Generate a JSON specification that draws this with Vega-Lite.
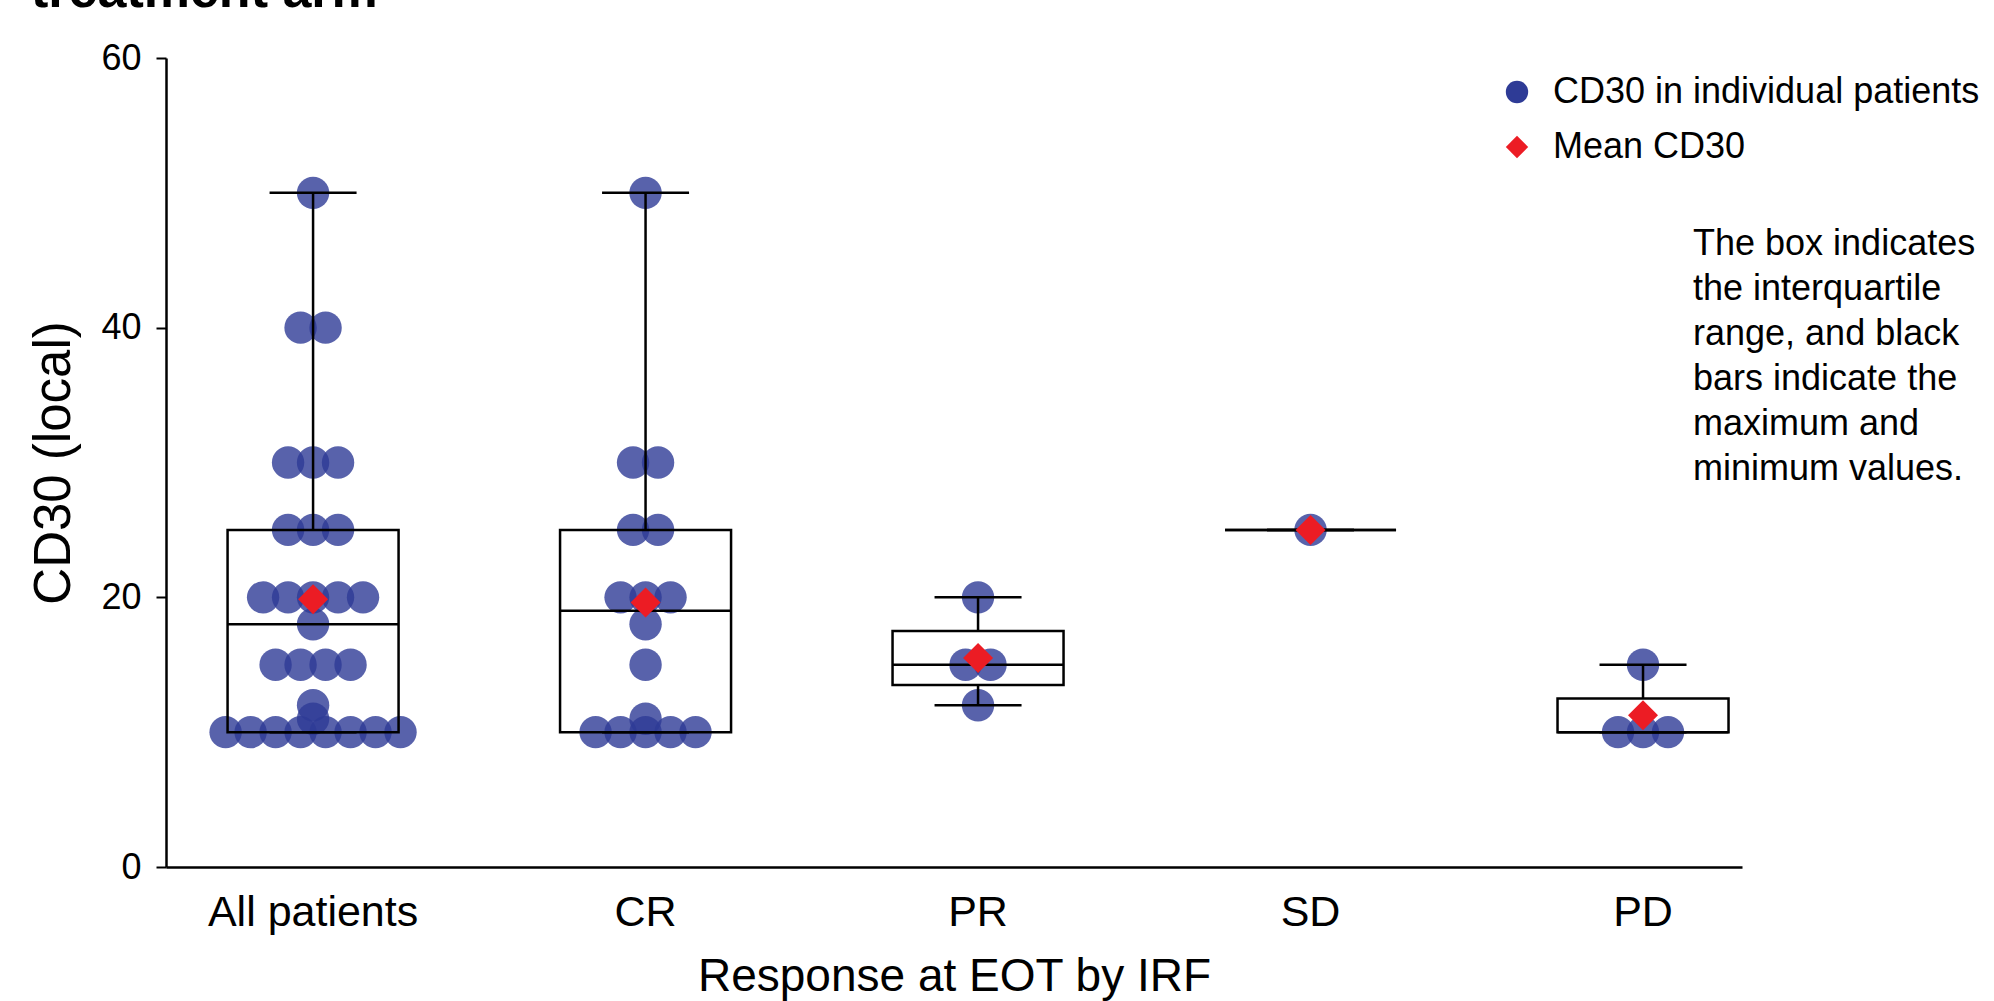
{
  "$schema": "https://vega.github.io/schema/vega-lite/v6.json",
  "width": 1576,
  "height": 809,
  "autosize": {"type": "none"},
  "padding": {"left": 166, "top": 58, "right": 252, "bottom": 134},
  "background": "white",
  "title": {"text": "treatment arm", "anchor": "start", "frame": "group", "font": "Liberation Sans", "fontSize": 52, "fontWeight": "bold", "color": "black", "dx": -135, "offset": 22},
  "config": {"view": {"stroke": null}, "font": "Liberation Sans", "axis": {"grid": false}},
  "datasets": {
    "points": [
      {"group": "All patients", "value": 10}, {"group": "All patients", "value": 10}, {"group": "All patients", "value": 10}, {"group": "All patients", "value": 10},
      {"group": "All patients", "value": 10}, {"group": "All patients", "value": 10}, {"group": "All patients", "value": 10}, {"group": "All patients", "value": 10},
      {"group": "All patients", "value": 11}, {"group": "All patients", "value": 12},
      {"group": "All patients", "value": 15}, {"group": "All patients", "value": 15}, {"group": "All patients", "value": 15}, {"group": "All patients", "value": 15},
      {"group": "All patients", "value": 18},
      {"group": "All patients", "value": 20}, {"group": "All patients", "value": 20}, {"group": "All patients", "value": 20}, {"group": "All patients", "value": 20}, {"group": "All patients", "value": 20},
      {"group": "All patients", "value": 25}, {"group": "All patients", "value": 25}, {"group": "All patients", "value": 25},
      {"group": "All patients", "value": 30}, {"group": "All patients", "value": 30}, {"group": "All patients", "value": 30},
      {"group": "All patients", "value": 40}, {"group": "All patients", "value": 40},
      {"group": "All patients", "value": 50},
      {"group": "CR", "value": 10}, {"group": "CR", "value": 10}, {"group": "CR", "value": 10}, {"group": "CR", "value": 10}, {"group": "CR", "value": 10},
      {"group": "CR", "value": 11}, {"group": "CR", "value": 15}, {"group": "CR", "value": 18},
      {"group": "CR", "value": 20}, {"group": "CR", "value": 20}, {"group": "CR", "value": 20},
      {"group": "CR", "value": 25}, {"group": "CR", "value": 25},
      {"group": "CR", "value": 30}, {"group": "CR", "value": 30},
      {"group": "CR", "value": 50},
      {"group": "PR", "value": 12}, {"group": "PR", "value": 15}, {"group": "PR", "value": 15}, {"group": "PR", "value": 20},
      {"group": "SD", "value": 25},
      {"group": "PD", "value": 10}, {"group": "PD", "value": 10}, {"group": "PD", "value": 10}, {"group": "PD", "value": 15}
    ],
    "stats": [
      {"group": "All patients", "min": 10, "q1": 10, "median": 18, "q3": 25, "max": 50},
      {"group": "CR", "min": 10, "q1": 10, "median": 19, "q3": 25, "max": 50},
      {"group": "PR", "min": 12, "q1": 13.5, "median": 15, "q3": 17.5, "max": 20},
      {"group": "SD", "min": 25, "q1": 25, "median": 25, "q3": 25, "max": 25},
      {"group": "PD", "min": 10, "q1": 10, "median": 10, "q3": 12.5, "max": 15}
    ],
    "note": [
      {"note": ["The box indicates", "the interquartile", "range, and black", "bars indicate the", "maximum and", "minimum values."]}
    ]
  },
  "encoding": {
    "x": {
      "field": "group",
      "type": "nominal",
      "title": "Response at EOT by IRF",
      "scale": {"type": "band", "domain": ["All patients", "CR", "PR", "SD", "PD"], "paddingInner": 0.486, "paddingOuter": 0.113, "align": 0.82},
      "axis": {"labelAngle": 0, "labelFont": "Liberation Sans", "labelFontSize": 43, "labelColor": "black", "labelLimit": 0, "ticks": false, "tickSize": 0, "labelPadding": 24, "domainColor": "black", "domainWidth": 2.5, "titleFont": "Liberation Sans", "titleFontSize": 46, "titleFontWeight": "normal", "titleColor": "black", "titlePadding": 20}
    }
  },
  "layer": [
    {
      "data": {"name": "points"},
      "transform": [
        {"window": [{"op": "row_number", "as": "rank"}], "groupby": ["group", "value"]},
        {"joinaggregate": [{"op": "count", "as": "n"}], "groupby": ["group", "value"]},
        {"calculate": "datum.rank - (datum.n + 1) / 2", "as": "slot"}
      ],
      "mark": {"type": "point", "filled": true, "size": 1050, "opacity": 0.8, "strokeWidth": 0},
      "encoding": {
        "xOffset": {"field": "slot", "type": "quantitative", "scale": {"domain": [-3.42, 3.42], "nice": false, "zero": false}},
        "y": {
          "field": "value", "type": "quantitative", "title": "CD30 (local)",
          "scale": {"domain": [0, 60], "nice": false},
          "axis": {"values": [0, 20, 40, 60], "tickSize": 10, "tickWidth": 2, "tickColor": "black", "domainColor": "black", "domainWidth": 2.5, "labelFont": "Liberation Sans", "labelFontSize": 36, "labelColor": "black", "labelPadding": 15, "titleFont": "Liberation Sans", "titleFontSize": 51, "titleFontWeight": "normal", "titleColor": "black", "titlePadding": 20}
        },
        "color": {
          "datum": "CD30 in individual patients", "type": "nominal",
          "scale": {"domain": ["CD30 in individual patients", "Mean CD30"], "range": ["#2e3b96", "#ec1c24"]},
          "legend": {
            "orient": "none", "legendX": 1333, "legendY": 16, "title": null, "padding": 0,
            "labelFont": "Liberation Sans", "labelFontSize": 36, "labelColor": "black", "labelOffset": 18, "labelLimit": 1000,
            "symbolSize": 500, "symbolOpacity": 1, "symbolStrokeWidth": 0, "rowPadding": 19
          }
        },
        "shape": {
          "datum": "CD30 in individual patients", "type": "nominal",
          "scale": {"domain": ["CD30 in individual patients", "Mean CD30"], "range": ["circle", "diamond"]},
          "legend": {
            "orient": "none", "legendX": 1333, "legendY": 16, "title": null, "padding": 0,
            "labelFont": "Liberation Sans", "labelFontSize": 36, "labelColor": "black", "labelOffset": 18, "labelLimit": 1000,
            "symbolSize": 500, "symbolOpacity": 1, "symbolStrokeWidth": 0, "rowPadding": 19
          }
        }
      }
    },
    {
      "data": {"name": "stats"},
      "mark": {"type": "bar", "size": 171, "fill": "white", "fillOpacity": 0, "stroke": "black", "strokeWidth": 2.5},
      "encoding": {"y": {"field": "q1", "type": "quantitative", "title": "CD30 (local)"}, "y2": {"field": "q3"}}
    },
    {
      "data": {"name": "stats"},
      "mark": {"type": "rule", "color": "black", "strokeWidth": 2.5},
      "encoding": {"y": {"field": "q3", "type": "quantitative", "title": "CD30 (local)"}, "y2": {"field": "max"}}
    },
    {
      "data": {"name": "stats"},
      "mark": {"type": "rule", "color": "black", "strokeWidth": 2.5},
      "encoding": {"y": {"field": "min", "type": "quantitative", "title": "CD30 (local)"}, "y2": {"field": "q1"}}
    },
    {
      "data": {"name": "stats"},
      "transform": [{"fold": ["min", "max"], "as": ["stat", "cap"]}],
      "mark": {"type": "bar", "size": 87, "fill": "white", "fillOpacity": 0, "stroke": "black", "strokeWidth": 2.5},
      "encoding": {"y": {"field": "cap", "type": "quantitative", "title": "CD30 (local)"}, "y2": {"field": "cap"}}
    },
    {
      "data": {"name": "stats"},
      "mark": {"type": "bar", "size": 171, "fill": "white", "fillOpacity": 0, "stroke": "black", "strokeWidth": 2.5},
      "encoding": {"y": {"field": "median", "type": "quantitative", "title": "CD30 (local)"}, "y2": {"field": "median"}}
    },
    {
      "data": {"name": "points"},
      "transform": [{"aggregate": [{"op": "mean", "field": "value", "as": "mean"}], "groupby": ["group"]}],
      "mark": {"type": "point", "filled": true, "size": 900, "opacity": 1, "strokeWidth": 0},
      "encoding": {
        "y": {"field": "mean", "type": "quantitative", "title": "CD30 (local)"},
        "color": {"datum": "Mean CD30", "type": "nominal"},
        "shape": {"datum": "Mean CD30", "type": "nominal"}
      }
    },
    {
      "data": {"name": "note"},
      "mark": {"type": "text", "align": "left", "baseline": "alphabetic", "font": "Liberation Sans", "fontSize": 36, "lineHeight": 45, "dx": 50, "color": "black"},
      "encoding": {
        "x": {"datum": "PD"},
        "y": {"datum": 45.4, "type": "quantitative"},
        "text": {"field": "note", "type": "nominal"}
      }
    }
  ]
}
